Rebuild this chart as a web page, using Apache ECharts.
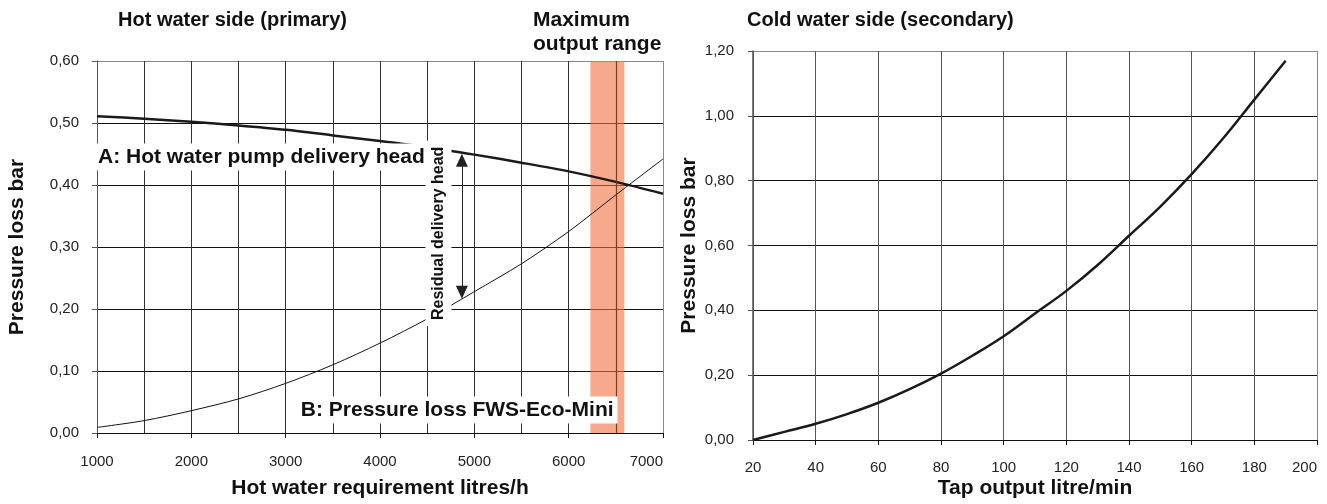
<!DOCTYPE html>
<html>
<head>
<meta charset="utf-8">
<script src="https://cdn.jsdelivr.net/npm/echarts@6/dist/echarts.min.js"></script>
<style>
    html, body { margin: 0; padding: 0; background: #fff; }
    #chart { width: 1327px; height: 504px; }
</style>
</head>
<body>
<div id="chart"></div>
<script>
    // hot water side (primary), litres/h -> bar
    let hotFlow = [1000, 1500, 2000, 2500, 3000, 3500, 4000, 4500, 5000, 5500, 6000, 6500, 7000]
    let pumpHead = [0.511, 0.507, 0.502, 0.496, 0.489, 0.480, 0.471, 0.461, 0.449, 0.436, 0.422, 0.405, 0.386]
    let ecoLoss = [0.009, 0.020, 0.036, 0.055, 0.080, 0.110, 0.145, 0.184, 0.228, 0.273, 0.325, 0.384, 0.442]
    let outputRange = [6230, 6590]
    let outputRangeMid = 6500
    // residual delivery head arrow: x, top, bottom
    let residualArrow = [4868, 0.440, 0.227]

    // cold water side (secondary), litre/min -> bar
    let tapFlow = [20, 30, 40, 50, 60, 70, 80, 90, 100, 110, 120, 130, 140, 150, 160, 170, 180, 190]
    let coldLoss = [0, 0.025, 0.05, 0.08, 0.115, 0.157, 0.205, 0.26, 0.32, 0.39, 0.46, 0.54, 0.63, 0.72, 0.82, 0.93, 1.05, 1.17]

    let labelA = 'A: Hot water pump delivery head'
    let labelB = 'B: Pressure loss FWS-Eco-Mini'
    let labelResidual = 'Residual delivery head'

    let font = "'Liberation Sans', Arial, sans-serif"
    let boldText = { fontFamily: font, fontSize: 21, fontWeight: 'bold', color: '#111' }
    let tickText = { fontFamily: font, fontSize: 15, color: '#222' }

    let comma = (v) => v.toFixed(2).replace('.', ',')
    let plain = (v) => String(v)
    let pairs = (xs, ys) => xs.map((x, i) => [x, ys[i]])

    let myChart = echarts.init(document.getElementById('chart'), null, { renderer: 'canvas' })

    let option = {
        animation: false,
        title: [
            { text: 'Hot water side (primary)', left: 118, top: 10, padding: 0, textStyle: Object.assign({}, boldText, { fontSize: 20 }) },
            { text: 'Maximum\noutput range', left: 533, top: 8, padding: 0, textStyle: Object.assign({}, boldText, { lineHeight: 24 }) },
            { text: 'Cold water side (secondary)', left: 747, top: 10, padding: 0, textStyle: Object.assign({}, boldText, { fontSize: 20 }) }
        ],
        grid: [
            { left: 97, top: 61, width: 566, height: 377 },
            { left: 753, top: 51, width: 564, height: 394 }
        ],
        xAxis: [{
            gridIndex: 0,
            type: 'value',
            min: 1000,
            max: 7000,
            interval: 1000,
            name: 'Hot water requirement litres/h',
            nameLocation: 'middle',
            nameGap: 45,
            nameMoveOverlap: false,
            nameTextStyle: boldText,
            axisLine: { lineStyle: { color: '#111', width: 1 } },
            axisTick: { show: true, length: 5, lineStyle: { color: '#111' } },
            axisLabel: Object.assign({ margin: 21, alignMaxLabel: 'right', formatter: plain }, tickText),
            splitLine: { lineStyle: { color: ['#333', '#333', '#333', '#333', '#333', '#333', '#888'], width: 1 } },
            minorTick: { show: false, splitNumber: 2 },
            minorSplitLine: { show: true, lineStyle: { color: '#333', width: 1 } }
        }, {
            gridIndex: 1,
            type: 'value',
            min: 20,
            max: 200,
            interval: 20,
            name: 'Tap output litre/min',
            nameLocation: 'middle',
            nameGap: 38,
            nameMoveOverlap: false,
            nameTextStyle: boldText,
            axisLine: { lineStyle: { color: '#111', width: 1 } },
            axisTick: { show: true, length: 5, lineStyle: { color: '#111' } },
            axisLabel: Object.assign({ margin: 20, alignMaxLabel: 'right', formatter: plain }, tickText),
            splitLine: { lineStyle: { color: ['#555', '#555', '#555', '#555', '#555', '#555', '#555', '#555', '#555', '#888'], width: 1 } }
        }],
        yAxis: [{
            gridIndex: 0,
            type: 'value',
            min: 0,
            max: 0.6,
            interval: 0.1,
            name: 'Pressure loss bar',
            nameLocation: 'middle',
            nameRotate: 90,
            nameGap: 69,
            nameMoveOverlap: false,
            nameTextStyle: boldText,
            axisLine: { show: true, lineStyle: { color: '#555', width: 1 } },
            axisTick: { show: true, length: 5, lineStyle: { color: '#555' } },
            axisLabel: Object.assign({ margin: 18, formatter: comma }, tickText),
            splitLine: { lineStyle: { color: ['#111', '#111', '#111', '#111', '#111', '#111', '#888'], width: 1 } }
        }, {
            gridIndex: 1,
            type: 'value',
            min: 0,
            max: 1.2,
            interval: 0.2,
            name: 'Pressure loss bar',
            nameLocation: 'middle',
            nameRotate: 90,
            nameGap: 53,
            nameMoveOverlap: false,
            nameTextStyle: boldText,
            axisLine: { show: true, lineStyle: { color: '#555', width: 1.5 } },
            axisTick: { show: true, length: 5, lineStyle: { color: '#555' } },
            axisLabel: Object.assign({ margin: 19, formatter: comma }, tickText),
            splitLine: { lineStyle: { color: ['#111', '#111', '#111', '#111', '#111', '#111', '#888'], width: 1 } }
        }],
        series: [{
            // A: pump delivery head
            type: 'line',
            xAxisIndex: 0,
            yAxisIndex: 0,
            data: pairs(hotFlow, pumpHead),
            showSymbol: false,
            smooth: 0.3,
            lineStyle: { color: '#1a1a1a', width: 2.5 },
            markArea: {
                silent: true,
                itemStyle: { color: 'rgba(242, 112, 62, 0.6)', borderWidth: 0 },
                data: [[{ xAxis: outputRange[0], yAxis: 0 }, { xAxis: outputRange[1], yAxis: 0.6 }]]
            },
            markLine: {
                // grid line showing through the band
                silent: true,
                symbol: 'none',
                label: { show: false },
                lineStyle: { color: 'rgba(110, 55, 35, 0.85)', width: 1.2, type: 'solid' },
                data: [{ xAxis: outputRangeMid }]
            }
        }, {
            // B: pressure loss FWS-Eco-Mini
            type: 'line',
            xAxisIndex: 0,
            yAxisIndex: 0,
            data: pairs(hotFlow, ecoLoss),
            showSymbol: false,
            smooth: 0.3,
            lineStyle: { color: '#111', width: 1 },
            markLine: {
                silent: true,
                symbol: ['triangle', 'triangle'],
                symbolSize: [12, 13],
                label: { show: false },
                lineStyle: { color: '#222', width: 1, type: 'solid' },
                data: [[{ coord: [residualArrow[0], residualArrow[1]] }, { coord: [residualArrow[0], residualArrow[2]] }]]
            },
            markPoint: {
                silent: true,
                symbolSize: 0,
                label: {
                    show: true,
                    formatter: '{b}',
                    position: 'right',
                    distance: 0,
                    backgroundColor: '#fff',
                    padding: [3, 4, 3, 1],
                    fontFamily: font,
                    fontSize: 21,
                    fontWeight: 'bold',
                    color: '#111'
                },
                data: [
                    { name: labelA, coord: [1000, 0.445] },
                    { name: labelB, coord: [3150, 0.037] },
                    {
                        name: labelResidual,
                        coord: [4620, 0.322],
                        label: { position: 'inside', rotate: 90, fontSize: 16, padding: [2, 6, 8, 6] }
                    }
                ]
            }
        }, {
            type: 'line',
            xAxisIndex: 1,
            yAxisIndex: 1,
            data: pairs(tapFlow, coldLoss),
            showSymbol: false,
            smooth: 0.4,
            lineStyle: { color: '#1a1a1a', width: 2.5 }
        }]
    }

    myChart.setOption(option)
</script>
</body>
</html>
